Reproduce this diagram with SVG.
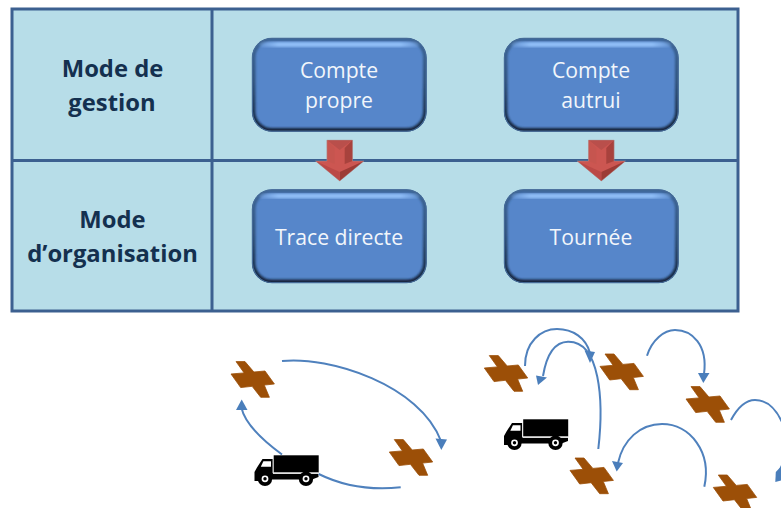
<svg xmlns="http://www.w3.org/2000/svg" width="781" height="508" viewBox="0 0 781 508">
<style>
text{font-family:"Open Sans","Noto Sans","Liberation Sans",sans-serif;text-anchor:middle}
.h{font-size:23.8px;font-weight:700;fill:#14304f}
.w{font-size:21.2px;fill:#f2f6fb}
.grid{fill:none;stroke:#3c6090;stroke-width:3}
.cur{fill:none;stroke:#4f81bd;stroke-width:2}
.ah{fill:#4a7ebb}
.cross{fill:#9c4f07;stroke:#9c4f07;stroke-width:.8}
</style>
<defs>
<linearGradient id="edge" x1="0" y1="0" x2="0" y2="1"><stop offset="0" stop-color="#3d6699"/><stop offset=".5" stop-color="#2f5078"/><stop offset="1" stop-color="#12233a"/></linearGradient>
<linearGradient id="hi" x1="0" y1="0" x2="1" y2="0"><stop offset="0" stop-color="#8fbdf6" stop-opacity=".2"/><stop offset=".12" stop-color="#8fbdf6"/><stop offset=".88" stop-color="#8fbdf6"/><stop offset="1" stop-color="#8fbdf6" stop-opacity=".2"/></linearGradient>
<filter id="b" x="-10%" y="-10%" width="120%" height="120%"><feGaussianBlur stdDeviation="1.2"/></filter>
<filter id="b2" x="-10%" y="-10%" width="120%" height="120%"><feGaussianBlur stdDeviation="0.9"/></filter>
<filter id="b3"><feGaussianBlur stdDeviation="0.5"/></filter>
<clipPath id="cb"><rect width="174.5" height="93.5" rx="20"/></clipPath>
<g id="box">
<rect width="174.5" height="93.5" rx="20" fill="#5686ca"/>
<g clip-path="url(#cb)">
<rect x="1" y="1" width="172.5" height="91.5" rx="19" fill="none" stroke="url(#edge)" stroke-width="5" filter="url(#b)"/>
<rect x="7" y="4" width="160.5" height="5" rx="2.5" fill="url(#hi)" filter="url(#b2)"/>
</g>
<rect x=".4" y=".4" width="173.7" height="92.7" rx="19.6" fill="none" stroke="#456a96" stroke-width="1.2"/>
</g>
<g id="arrow">
<g filter="url(#b3)">
<path d="M-12.8,0 H12.8 V21 H24.2 L0,41 L-24.2,21 H-12.8Z" fill="#cc5651"/>
<path d="M-12.8,0 H12.8 L0,10Z" fill="#b9504c"/>
<path d="M12.8,0 V21 L5,24 V8Z" fill="#a8423e"/>
<path d="M-12.8,0 V21 L-5,24 V8Z" fill="#c65550"/>
<path d="M24.2,21 L0,41 V32Z" fill="#9c3a36"/>
<path d="M-24.2,21 L0,41 V32Z" fill="#bb4a46"/>
</g>
<path d="M-12.8,0 H12.8 V21 H24.2 L0,41 L-24.2,21 H-12.8Z" fill="none" stroke="#a8a0a0" stroke-width=".4"/>
</g>
<path id="plus" class="cross" d="M-16.7,-17.7 H-7.7 L1.2,-7.3 L12.3,-8.3 L21.7,4.7 L11.6,5.8 L16.7,18 H8 L-0.6,7 L-12,8.3 L-21.7,-5.3 L-8.6,-6.4Z"/>
<g id="truck">
<rect x="19.7" y="0.3" width="45" height="17.2" fill="#000"/>
<path d="M18.6,4 H8.5 L3,12.5 L0.5,17 V26 H6 V22 H16 V24.5 H46.5 V22 H58 V24.5 L64.5,22 V19 H19.5 L18.6,18Z" fill="#000"/>
<path d="M6.8,11.7 L9.4,6.3 H17 V11.7Z" fill="#fff"/>
<rect x="19.5" y="17.5" width="45" height="1.5" fill="#e0e0e0"/>
<circle cx="11" cy="23.8" r="7.2" fill="#000"/><circle cx="11" cy="23.8" r="3.4" fill="#fff"/><circle cx="11" cy="23.8" r="1.7" fill="#000"/>
<circle cx="52" cy="23.8" r="7.2" fill="#000"/><circle cx="52" cy="23.8" r="3.4" fill="#fff"/><circle cx="52" cy="23.8" r="1.7" fill="#000"/>
</g>
</defs>
<g id="table">
<rect x="12" y="9" width="726" height="302" fill="#b7dde8"/>
<rect class="grid" x="12" y="9" width="726" height="302"/>
<path class="grid" d="M212,9V311M12,160.5H738"/>
</g>
<g id="label-gestion"><text class="h" x="112.5" y="77">Mode de</text><text class="h" x="112" y="111">gestion</text></g>
<g id="label-organisation"><text class="h" x="112.5" y="228">Mode</text><text class="h" x="112.5" y="262">d’organisation</text></g>
<g id="node-compte-propre"><use href="#box" x="252" y="38"/><text class="w" x="339" y="77.5">Compte</text><text class="w" x="339" y="107.5">propre</text></g>
<g id="node-compte-autrui"><use href="#box" x="504" y="38"/><text class="w" x="591" y="77.5">Compte</text><text class="w" x="591" y="107.5">autrui</text></g>
<g id="node-trace-directe"><use href="#box" x="252" y="189.5"/><text class="w" x="339" y="244.5">Trace directe</text></g>
<g id="node-tournee"><use href="#box" x="504" y="189.5"/><text class="w" x="591" y="244.5">Tournée</text></g>
<g id="arrow-1"><use href="#arrow" x="339.7" y="140"/></g>
<g id="arrow-2"><use href="#arrow" x="601.3" y="140"/></g>
<g id="cross-1"><use href="#plus" x="252.7" y="379.3"/></g>
<g id="cross-2"><use href="#plus" x="411" y="457.3"/></g>
<g id="cross-3"><use href="#plus" x="506" y="373.3"/></g>
<g id="cross-4"><use href="#plus" x="621.7" y="371.7"/></g>
<g id="cross-5"><use href="#plus" x="707.7" y="404.3"/></g>
<g id="cross-6"><use href="#plus" x="591.7" y="475.7"/></g>
<g id="cross-7"><use href="#plus" x="735" y="492.7"/></g>
<g id="truck-1"><use href="#truck" x="254" y="455"/></g>
<g id="truck-2"><use href="#truck" x="503.5" y="419"/></g>
<g id="connectors">
<path class="cur" d="M282,454.5Q246,428 241.5,408"/><path class="ah" d="M241.7,399.5L247.5,410H236Z"/>
<path class="cur" d="M282,361C330,356 420,385 441,441"/><path class="ah" d="M441.3,450L435.5,438.5L447,439.5Z"/>
<path class="cur" d="M318.7,474Q355,492 400.7,487.3"/>
<path class="cur" d="M525,366C525,342 541,329 557,329C573,329 586,338 590,353"/><path class="ah" d="M590,363L584.5,350.5L595,352Z"/>
<path class="cur" d="M598.3,449C604,400 600,341 568,341.7C553,342 546,358 543,376"/><path class="ah" d="M538,385L536,375.5L547,377.5Z"/>
<path class="cur" d="M647,355.7C652,340 664,330 675,330C692,330 708,345 704,374"/><path class="ah" d="M703.3,383L698,373H709.5Z"/>
<path class="cur" d="M731,420C738,407 746,400 755,400C768,400 778,411 784,427C790,445 785,460 779,472"/><path class="ah" d="M775.3,482L775.8,472L781,466.5V480.5Z"/>
<path class="cur" d="M704.3,486.7C712,452 690,424 662,424C640,424 623,440 618,463"/><path class="ah" d="M616.7,471.5L612,461L623,463Z"/>
</g>
</svg>
